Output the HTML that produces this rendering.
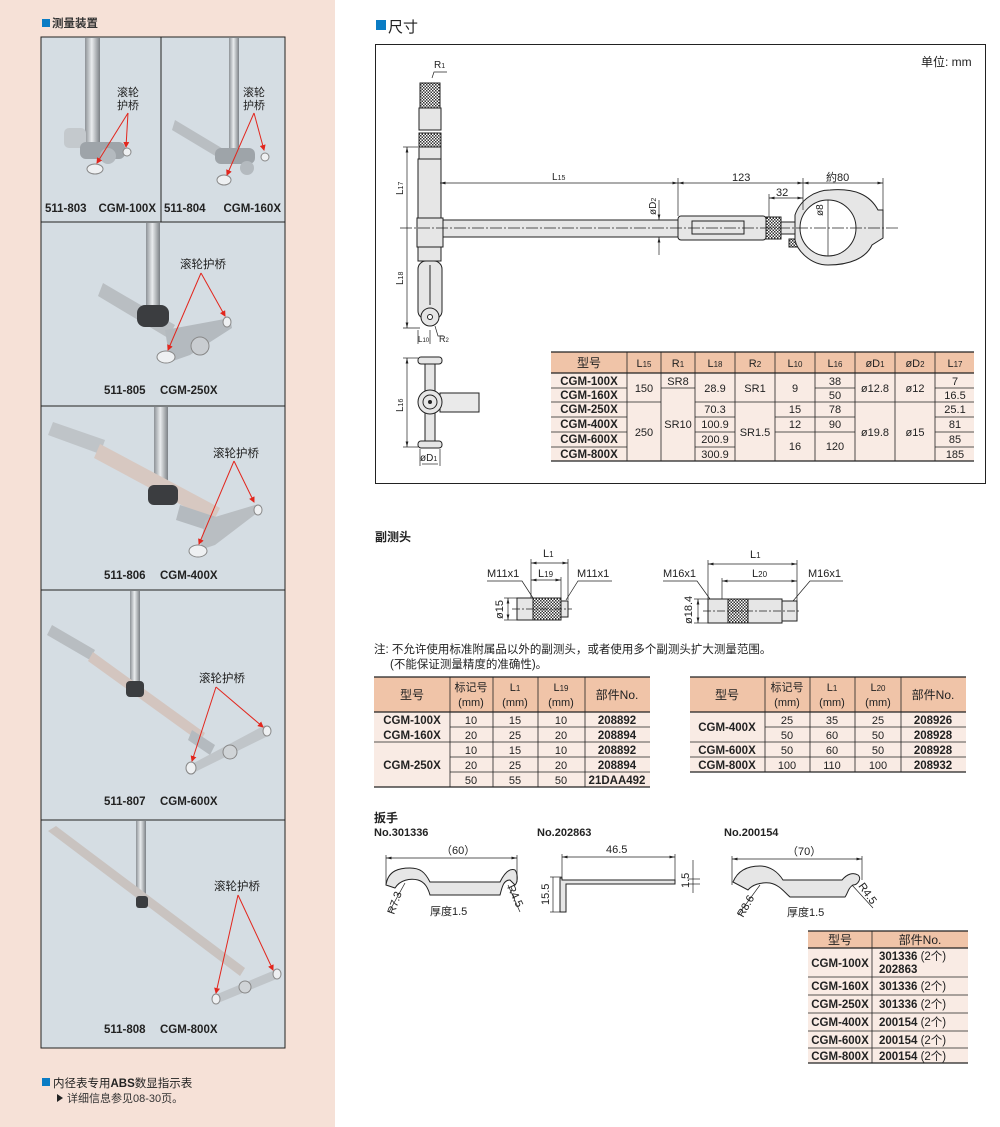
<!DOCTYPE html>
<html><head><meta charset="utf-8">
<style>
html,body{margin:0;padding:0;background:#fff;}
svg{display:block;font-family:"Liberation Sans","Noto Sans CJK SC",sans-serif;}
.b{font-weight:bold;}
</style></head><body>
<svg width="1000" height="1127" viewBox="0 0 1000 1127" xmlns="http://www.w3.org/2000/svg">
<defs>
<linearGradient id="rod" x1="0" x2="1"><stop offset="0" stop-color="#8d9297"/><stop offset=".45" stop-color="#e9ecee"/><stop offset="1" stop-color="#7c8186"/></linearGradient>
<pattern id="kn" width="3" height="3" patternUnits="userSpaceOnUse"><rect width="3" height="3" fill="#fff"/><rect width="1.5" height="1.5" fill="#333"/><rect x="1.5" y="1.5" width="1.5" height="1.5" fill="#333"/></pattern>
<marker id="ar" markerWidth="6" markerHeight="6" refX="5" refY="3" orient="auto"><path d="M0,0 L6,3 L0,6z" fill="#e2261d"/></marker>
<marker id="da" markerWidth="8" markerHeight="6" refX="8" refY="3" orient="auto"><path d="M0,1 L8,3 L0,5z" fill="#222"/></marker>
<marker id="ds" markerWidth="8" markerHeight="6" refX="0" refY="3" orient="auto"><path d="M8,1 L0,3 L8,5z" fill="#222"/></marker>
</defs>

<rect x="0" y="0" width="335" height="1127" fill="#f6e1d7"/>
<rect x="42" y="19" width="8" height="8" fill="#0a7cc4"/>
<text x="52" y="27" font-size="11.5" class="b" fill="#333">测量装置</text>

<rect x="41" y="37" width="244" height="1011" fill="#d5dde3" stroke="#222" stroke-width="1"/>
<g stroke="#222" stroke-width="1">
<line x1="161" y1="37" x2="161" y2="222"/>
<line x1="41" y1="222" x2="285" y2="222"/>
<line x1="41" y1="406" x2="285" y2="406"/>
<line x1="41" y1="590" x2="285" y2="590"/>
<line x1="41" y1="820" x2="285" y2="820"/>
</g>

<rect x="85" y="38" width="15" height="112" fill="url(#rod)"/>
<rect x="64" y="128" width="22" height="20" rx="5" fill="#c4c9cd"/>
<rect x="80" y="142" width="45" height="17" rx="6" fill="#9ea4a9"/>
<circle cx="108" cy="156" r="8" fill="#b4babf"/>
<ellipse cx="95" cy="169" rx="8" ry="5" fill="#eef0f2" stroke="#888"/>
<ellipse cx="127" cy="152" rx="4" ry="4" fill="#eef0f2" stroke="#888"/>
<text x="117" y="96" font-size="11" fill="#222">滚轮</text>
<text x="117" y="109" font-size="11" fill="#222">护桥</text>
<line x1="128" y1="113" x2="97" y2="163" stroke="#e2261d" stroke-width="1" marker-end="url(#ar)"/>
<line x1="128" y1="113" x2="126" y2="147" stroke="#e2261d" stroke-width="1" marker-end="url(#ar)"/>
<text x="45" y="212" font-size="11.5" class="b" fill="#222">511-803</text>
<text x="156" y="212" font-size="11.5" class="b" fill="#222" text-anchor="end">CGM-100X</text>

<rect x="229" y="38" width="10" height="112" fill="url(#rod)"/>
<path d="M175,120 L225,150 L222,160 L172,130z" fill="#b9bec2"/>
<rect x="215" y="148" width="40" height="16" rx="6" fill="#9ea4a9"/>
<circle cx="247" cy="168" r="7" fill="#b4babf"/>
<ellipse cx="224" cy="180" rx="7" ry="5" fill="#eef0f2" stroke="#888"/>
<ellipse cx="265" cy="157" rx="4" ry="4" fill="#eef0f2" stroke="#888"/>
<text x="243" y="96" font-size="11" fill="#222">滚轮</text>
<text x="243" y="109" font-size="11" fill="#222">护桥</text>
<line x1="254" y1="113" x2="227" y2="175" stroke="#e2261d" stroke-width="1" marker-end="url(#ar)"/>
<line x1="254" y1="113" x2="264" y2="150" stroke="#e2261d" stroke-width="1" marker-end="url(#ar)"/>
<text x="164" y="212" font-size="11.5" class="b" fill="#222">511-804</text>
<text x="281" y="212" font-size="11.5" class="b" fill="#222" text-anchor="end">CGM-160X</text>

<rect x="146" y="223" width="14" height="87" fill="url(#rod)"/>
<path d="M103,283 L175,325 L168,338 L98,296z" fill="#b9bec2"/>
<rect x="137" y="305" width="32" height="22" rx="8" fill="#3b3d40"/>
<path d="M165,330 L230,318 L232,328 L190,355 L170,362z" fill="#b4babf"/>
<circle cx="200" cy="346" r="9" fill="#c9cdd1" stroke="#888"/>
<ellipse cx="166" cy="357" rx="9" ry="6" fill="#eef0f2" stroke="#888"/>
<ellipse cx="227" cy="322" rx="4" ry="5" fill="#eef0f2" stroke="#888"/>
<text x="180" y="268" font-size="11.5" fill="#222">滚轮护桥</text>
<line x1="201" y1="273" x2="168" y2="350" stroke="#e2261d" stroke-width="1" marker-end="url(#ar)"/>
<line x1="201" y1="273" x2="225" y2="316" stroke="#e2261d" stroke-width="1" marker-end="url(#ar)"/>
<text x="104" y="394" font-size="11.5" class="b" fill="#222">511-805</text>
<text x="160" y="394" font-size="11.5" class="b" fill="#222">CGM-250X</text>

<rect x="154" y="407" width="14" height="85" fill="url(#rod)"/>
<path d="M53,422 L105,440 L100,454 L48,435z" fill="#bfc4c8"/>
<path d="M100,444 L220,508 L213,522 L94,458z" fill="#d7c8c1"/>
<rect x="148" y="485" width="30" height="20" rx="6" fill="#3b3d40"/>
<path d="M180,505 L225,520 L222,535 L176,520z" fill="#b4babf"/>
<path d="M205,520 L255,505 L257,513 L215,545 L200,550z" fill="#b9bec2"/>
<ellipse cx="198" cy="551" rx="9" ry="6" fill="#eef0f2" stroke="#888"/>
<ellipse cx="258" cy="510" rx="4" ry="5" fill="#eef0f2" stroke="#888"/>
<text x="213" y="457" font-size="11.5" fill="#222">滚轮护桥</text>
<line x1="234" y1="461" x2="199" y2="544" stroke="#e2261d" stroke-width="1" marker-end="url(#ar)"/>
<line x1="234" y1="461" x2="254" y2="502" stroke="#e2261d" stroke-width="1" marker-end="url(#ar)"/>
<text x="104" y="579" font-size="11.5" class="b" fill="#222">511-806</text>
<text x="160" y="579" font-size="11.5" class="b" fill="#222">CGM-400X</text>

<rect x="130" y="591" width="10" height="94" fill="url(#rod)"/>
<path d="M52,625 L95,650 L90,660 L47,635z" fill="#b8bdc1"/>
<path d="M93,652 L205,733 L200,742 L88,661z" fill="#d3c5bf"/>
<rect x="126" y="681" width="18" height="16" rx="4" fill="#3b3d40"/>
<path d="M192,730 L215,745 L210,755 L188,740z" fill="#b4babf"/>
<path d="M190,765 L265,725 L270,735 L195,772z" fill="#c0c5c9"/>
<circle cx="230" cy="752" r="7" fill="#d0d4d7" stroke="#888"/>
<ellipse cx="191" cy="768" rx="5" ry="6" fill="#eef0f2" stroke="#888"/>
<ellipse cx="267" cy="731" rx="4" ry="5" fill="#eef0f2" stroke="#888"/>
<text x="199" y="682" font-size="11.5" fill="#222">滚轮护桥</text>
<line x1="216" y1="687" x2="192" y2="761" stroke="#e2261d" stroke-width="1" marker-end="url(#ar)"/>
<line x1="216" y1="687" x2="263" y2="727" stroke="#e2261d" stroke-width="1" marker-end="url(#ar)"/>
<text x="104" y="805" font-size="11.5" class="b" fill="#222">511-807</text>
<text x="160" y="805" font-size="11.5" class="b" fill="#222">CGM-600X</text>

<rect x="136" y="821" width="10" height="82" fill="url(#rod)"/>
<path d="M48,831 L56,826 L245,968 L240,976z" fill="#c9c3c0"/>
<rect x="136" y="896" width="12" height="12" rx="3" fill="#3b3d40"/>
<path d="M215,995 L275,970 L279,978 L218,1003z" fill="#c0c5c9"/>
<circle cx="245" cy="987" r="6" fill="#d0d4d7" stroke="#888"/>
<ellipse cx="216" cy="999" rx="4" ry="5" fill="#eef0f2" stroke="#888"/>
<ellipse cx="277" cy="974" rx="4" ry="5" fill="#eef0f2" stroke="#888"/>
<text x="214" y="890" font-size="11.5" fill="#222">滚轮护桥</text>
<line x1="238" y1="895" x2="216" y2="993" stroke="#e2261d" stroke-width="1" marker-end="url(#ar)"/>
<line x1="238" y1="895" x2="273" y2="970" stroke="#e2261d" stroke-width="1" marker-end="url(#ar)"/>
<text x="104" y="1033" font-size="11.5" class="b" fill="#222">511-808</text>
<text x="160" y="1033" font-size="11.5" class="b" fill="#222">CGM-800X</text>

<rect x="42" y="1078" width="8" height="8" fill="#0a7cc4"/>
<text x="53" y="1087" font-size="11.5" fill="#222">内径表专用<tspan class="b">ABS</tspan>数显指示表</text>
<path d="M57,1094 L63,1098 L57,1102z" fill="#222"/>
<text x="67" y="1102" font-size="11" fill="#333">详细信息参见08-30页。</text>

<rect x="376" y="20" width="10" height="10" fill="#0a7cc4"/>
<text x="388" y="32" font-size="15" fill="#222">尺寸</text>
<rect x="375.5" y="44.5" width="610" height="439" fill="none" stroke="#222" stroke-width="1"/>
<text x="921" y="66" font-size="12" fill="#222">单位: mm</text>

<g stroke="#222" stroke-width="1" fill="#e6e6e6">
<rect x="420" y="83" width="20" height="25" fill="url(#kn)"/>
<rect x="419" y="108" width="22" height="22" fill="#e6e6e6"/>
<rect x="419" y="133" width="22" height="14" fill="url(#kn)"/>
<rect x="419" y="147" width="22" height="12"/>
<rect x="418" y="159" width="23" height="60"/>
<rect x="417" y="218" width="26" height="29"/>
<rect x="418" y="247" width="23" height="14"/>
<rect x="418" y="261" width="24" height="58" rx="8"/>
<circle cx="430" cy="317" r="9"/>
<circle cx="430" cy="317" r="2.5" fill="#fff"/>
<line x1="430" y1="265" x2="430" y2="305"/>
<rect x="443" y="220" width="235" height="17"/>
<rect x="678" y="216" width="88" height="24" rx="3"/>
<rect x="692" y="221" width="52" height="13" fill="#e6e6e6"/>
<rect x="766" y="217" width="15" height="22" fill="url(#kn)"/>
<rect x="781" y="222" width="22" height="12"/>
<rect x="789" y="239" width="12" height="8" fill="url(#kn)"/>
<path d="M795,215 C800,200 815,190 830,190 C855,188 870,195 878,210 L883,210 L883,238 L872,245 C866,258 850,265 828,265 C810,265 797,250 795,240z"/>
<circle cx="828" cy="228" r="28" fill="#fff"/>
</g>
<g stroke="#222" stroke-width=".7" fill="none">
<line x1="400" y1="228" x2="900" y2="228" stroke-dasharray="12,2,2,2"/>
<line x1="407" y1="147" x2="407" y2="328" marker-start="url(#ds)" marker-end="url(#da)"/>
<line x1="403" y1="147" x2="418" y2="147"/><line x1="403" y1="328" x2="420" y2="328"/>
<line x1="440" y1="183" x2="678" y2="183" marker-start="url(#ds)" marker-end="url(#da)"/>
<line x1="678" y1="183" x2="803" y2="183" marker-start="url(#ds)" marker-end="url(#da)"/>
<line x1="803" y1="183" x2="883" y2="183" marker-start="url(#ds)" marker-end="url(#da)"/>
<line x1="678" y1="178" x2="678" y2="216"/><line x1="803" y1="178" x2="803" y2="210"/><line x1="883" y1="178" x2="883" y2="210"/>
<line x1="769" y1="198" x2="803" y2="198" marker-start="url(#ds)" marker-end="url(#da)"/>
<line x1="769" y1="194" x2="769" y2="217"/>
<line x1="659" y1="200" x2="659" y2="220" marker-end="url(#da)"/>
<line x1="659" y1="255" x2="659" y2="237" marker-end="url(#da)"/>
<line x1="828" y1="200" x2="828" y2="256"/>
<path d="M432,78 L434,72 L447,72"/>
<path d="M435,326 L438,336 L443,336"/>
<line x1="418" y1="330" x2="418" y2="344"/><line x1="430" y1="330" x2="430" y2="344"/>
</g>
<text x="434" y="68" font-size="10" fill="#222">R<tspan font-size="7">1</tspan></text>
<text x="552" y="180" font-size="10" fill="#222">L<tspan font-size="7">15</tspan></text>
<text x="732" y="181" font-size="11" fill="#222">123</text>
<text x="776" y="196" font-size="11" fill="#222">32</text>
<text x="826" y="181" font-size="11" fill="#222">約80</text>
<text transform="translate(656,215) rotate(-90)" font-size="10" fill="#222">øD<tspan font-size="7">2</tspan></text>
<text transform="translate(823,216) rotate(-90)" font-size="10" fill="#222">ø8</text>
<text transform="translate(403,195) rotate(-90)" font-size="10" fill="#222">L<tspan font-size="7">17</tspan></text>
<text transform="translate(403,285) rotate(-90)" font-size="10" fill="#222">L<tspan font-size="7">18</tspan></text>
<text x="418" y="342" font-size="8" fill="#222">L<tspan font-size="6">10</tspan></text>
<text x="439" y="342" font-size="9" fill="#222">R<tspan font-size="6">2</tspan></text>

<g stroke="#222" stroke-width="1" fill="#e6e6e6">
<rect x="425" y="362" width="10" height="80"/>
<rect x="418" y="357" width="24" height="7" rx="3"/>
<rect x="418" y="441" width="24" height="7" rx="3"/>
<rect x="440" y="393" width="39" height="19" fill="#eaeaea"/>
<circle cx="430" cy="402" r="12"/>
<circle cx="430" cy="402" r="7" fill="none"/>
<circle cx="430" cy="402" r="1.5" fill="#222"/>
</g>
<g stroke="#222" stroke-width=".7" fill="none">
<line x1="407" y1="358" x2="407" y2="447" marker-start="url(#ds)" marker-end="url(#da)"/>
<line x1="403" y1="358" x2="418" y2="358"/><line x1="403" y1="447" x2="418" y2="447"/>
<line x1="420" y1="449" x2="420" y2="466"/><line x1="440" y1="449" x2="440" y2="466"/>
<line x1="422" y1="464" x2="438" y2="464"/>
</g>
<text transform="translate(403,412) rotate(-90)" font-size="10" fill="#222">L<tspan font-size="7">16</tspan></text>
<text x="420" y="461" font-size="10" fill="#222">øD<tspan font-size="7">1</tspan></text>

<rect x="551" y="352" width="423" height="21" fill="#f0c4a8"/>
<rect x="551" y="373" width="423" height="88" fill="#f9ebe4"/>
<g font-size="11" fill="#222" text-anchor="middle">
<text x="589" y="367" font-size="12">型号</text>
<text x="644" y="367">L<tspan font-size="8">15</tspan></text>
<text x="678" y="367">R<tspan font-size="8">1</tspan></text>
<text x="715" y="367">L<tspan font-size="8">18</tspan></text>
<text x="755" y="367">R<tspan font-size="8">2</tspan></text>
<text x="795" y="367">L<tspan font-size="8">10</tspan></text>
<text x="835" y="367">L<tspan font-size="8">16</tspan></text>
<text x="875" y="367">øD<tspan font-size="8">1</tspan></text>
<text x="915" y="367">øD<tspan font-size="8">2</tspan></text>
<text x="955" y="367">L<tspan font-size="8">17</tspan></text>
<g class="b" font-size="11.5">
<text x="589" y="385">CGM-100X</text><text x="589" y="399">CGM-160X</text>
<text x="589" y="413">CGM-250X</text><text x="589" y="428">CGM-400X</text>
<text x="589" y="443">CGM-600X</text><text x="589" y="458">CGM-800X</text>
</g>
<text x="644" y="392">150</text><text x="644" y="436">250</text>
<text x="678" y="385">SR8</text><text x="678" y="428">SR10</text>
<text x="715" y="392">28.9</text><text x="715" y="413">70.3</text><text x="715" y="428">100.9</text><text x="715" y="443">200.9</text><text x="715" y="458">300.9</text>
<text x="755" y="392">SR1</text><text x="755" y="436">SR1.5</text>
<text x="795" y="392">9</text><text x="795" y="413">15</text><text x="795" y="428">12</text><text x="795" y="450">16</text>
<text x="835" y="385">38</text><text x="835" y="399">50</text><text x="835" y="413">78</text><text x="835" y="428">90</text><text x="835" y="450">120</text>
<text x="875" y="392">ø12.8</text><text x="875" y="436">ø19.8</text>
<text x="915" y="392">ø12</text><text x="915" y="436">ø15</text>
<text x="955" y="385">7</text><text x="955" y="399">16.5</text><text x="955" y="413">25.1</text><text x="955" y="428">81</text><text x="955" y="443">85</text><text x="955" y="458">185</text>
</g>
<g stroke="#222" stroke-width=".8">
<line x1="551" y1="352" x2="974" y2="352" stroke-width="1.2"/>
<line x1="551" y1="373" x2="974" y2="373" stroke-width="1.2"/>
<line x1="551" y1="461" x2="974" y2="461" stroke-width="1.2"/>
<line x1="627" y1="352" x2="627" y2="461"/><line x1="661" y1="352" x2="661" y2="461"/>
<line x1="695" y1="352" x2="695" y2="461"/><line x1="735" y1="352" x2="735" y2="461"/>
<line x1="775" y1="352" x2="775" y2="461"/><line x1="815" y1="352" x2="815" y2="461"/>
<line x1="855" y1="352" x2="855" y2="461"/><line x1="895" y1="352" x2="895" y2="461"/>
<line x1="935" y1="352" x2="935" y2="461"/>
<line x1="551" y1="388" x2="627" y2="388"/><line x1="551" y1="402" x2="661" y2="402"/>
<line x1="551" y1="417" x2="627" y2="417"/><line x1="551" y1="432" x2="627" y2="432"/><line x1="551" y1="447" x2="627" y2="447"/>
<line x1="661" y1="388" x2="695" y2="388"/>
<line x1="695" y1="402" x2="735" y2="402"/><line x1="695" y1="417" x2="735" y2="417"/><line x1="695" y1="432" x2="735" y2="432"/><line x1="695" y1="447" x2="735" y2="447"/>
<line x1="735" y1="402" x2="775" y2="402"/>
<line x1="775" y1="402" x2="855" y2="402"/><line x1="775" y1="417" x2="855" y2="417"/><line x1="775" y1="432" x2="855" y2="432"/>
<line x1="815" y1="388" x2="855" y2="388"/>
<line x1="855" y1="402" x2="935" y2="402"/>
<line x1="935" y1="388" x2="974" y2="388"/><line x1="935" y1="402" x2="974" y2="402"/><line x1="935" y1="417" x2="974" y2="417"/><line x1="935" y1="432" x2="974" y2="432"/><line x1="935" y1="447" x2="974" y2="447"/>
</g>

<text x="375" y="541" font-size="12" class="b" fill="#222">副测头</text>
<g stroke="#222" stroke-width="1">
<rect x="517" y="598" width="16" height="22" fill="#e6e6e6"/>
<rect x="533" y="598" width="28" height="22" fill="url(#kn)"/>
<rect x="561" y="601" width="7" height="16" fill="#e6e6e6"/>
<rect x="708" y="599" width="20" height="24" fill="#e6e6e6"/>
<rect x="728" y="599" width="20" height="24" fill="url(#kn)"/>
<rect x="748" y="599" width="34" height="24" fill="#e6e6e6"/>
<rect x="782" y="601" width="15" height="20" fill="#e6e6e6"/>
</g>
<g stroke="#222" stroke-width=".7" fill="none">
<line x1="512" y1="609" x2="572" y2="609" stroke-dasharray="8,2,2,2"/>
<line x1="703" y1="611" x2="800" y2="611" stroke-dasharray="8,2,2,2"/>
<line x1="531" y1="563" x2="568" y2="563" marker-start="url(#ds)" marker-end="url(#da)"/>
<line x1="531" y1="580" x2="561" y2="580" marker-start="url(#ds)" marker-end="url(#da)"/>
<line x1="531" y1="559" x2="531" y2="598"/><line x1="568" y1="559" x2="568" y2="600"/><line x1="561" y1="577" x2="561" y2="598"/>
<path d="M487,581 L522,581 L533,598"/><path d="M612,581 L578,581 L566,600"/>
<line x1="508" y1="598" x2="508" y2="620" marker-start="url(#ds)" marker-end="url(#da)"/>
<line x1="504" y1="598" x2="517" y2="598"/><line x1="504" y1="620" x2="517" y2="620"/>
<line x1="708" y1="564" x2="797" y2="564" marker-start="url(#ds)" marker-end="url(#da)"/>
<line x1="722" y1="581" x2="797" y2="581" marker-start="url(#ds)" marker-end="url(#da)"/>
<line x1="708" y1="560" x2="708" y2="599"/><line x1="797" y1="560" x2="797" y2="601"/><line x1="722" y1="578" x2="722" y2="599"/>
<path d="M663,581 L697,581 L710,599"/><path d="M843,581 L810,581 L793,601"/>
<line x1="698" y1="599" x2="698" y2="623" marker-start="url(#ds)" marker-end="url(#da)"/>
<line x1="694" y1="599" x2="708" y2="599"/><line x1="694" y1="623" x2="708" y2="623"/>
</g>
<g font-size="11" fill="#222">
<text x="543" y="557">L<tspan font-size="8">1</tspan></text>
<text x="538" y="577">L<tspan font-size="8">19</tspan></text>
<text x="487" y="577">M11x1</text><text x="577" y="577">M11x1</text>
<text x="750" y="558">L<tspan font-size="8">1</tspan></text>
<text x="752" y="577">L<tspan font-size="8">20</tspan></text>
<text x="663" y="577">M16x1</text><text x="808" y="577">M16x1</text>
<text transform="translate(503,619) rotate(-90)">ø15</text>
<text transform="translate(692,624) rotate(-90)">ø18.4</text>
</g>

<text x="374" y="653" font-size="11.5" fill="#222">注: 不允许使用标准附属品以外的副测头，或者使用多个副测头扩大测量范围。</text>
<text x="390" y="668" font-size="11.5" fill="#222">(不能保证测量精度的准确性)。</text>

<rect x="374" y="677" width="276" height="35" fill="#f0c4a8"/>
<rect x="374" y="712" width="276" height="75" fill="#f9ebe4"/>
<g font-size="11" fill="#222" text-anchor="middle">
<text x="412" y="699" font-size="12">型号</text>
<text x="471" y="691">标记号</text><text x="471" y="706">(mm)</text>
<text x="515" y="691">L<tspan font-size="8">1</tspan></text><text x="515" y="706">(mm)</text>
<text x="561" y="691">L<tspan font-size="8">19</tspan></text><text x="561" y="706">(mm)</text>
<text x="617" y="699" font-size="12">部件No.</text>
<g class="b" font-size="11.5"><text x="412" y="724">CGM-100X</text><text x="412" y="739">CGM-160X</text><text x="412" y="769">CGM-250X</text>
<text x="617" y="724">208892</text><text x="617" y="739">208894</text><text x="617" y="754">208892</text><text x="617" y="769">208894</text><text x="617" y="784">21DAA492</text></g>
<text x="471" y="724">10</text><text x="471" y="739">20</text><text x="471" y="754">10</text><text x="471" y="769">20</text><text x="471" y="784">50</text>
<text x="515" y="724">15</text><text x="515" y="739">25</text><text x="515" y="754">15</text><text x="515" y="769">25</text><text x="515" y="784">55</text>
<text x="561" y="724">10</text><text x="561" y="739">20</text><text x="561" y="754">10</text><text x="561" y="769">20</text><text x="561" y="784">50</text>
</g>
<g stroke="#222" stroke-width=".8">
<line x1="374" y1="677" x2="650" y2="677" stroke-width="1.2"/><line x1="374" y1="712" x2="650" y2="712" stroke-width="1.2"/><line x1="374" y1="787" x2="650" y2="787" stroke-width="1.2"/>
<line x1="450" y1="677" x2="450" y2="787"/><line x1="493" y1="677" x2="493" y2="787"/><line x1="538" y1="677" x2="538" y2="787"/><line x1="585" y1="677" x2="585" y2="787"/>
<line x1="450" y1="727" x2="650" y2="727"/><line x1="374" y1="742" x2="650" y2="742"/><line x1="450" y1="757" x2="650" y2="757"/><line x1="450" y1="772" x2="650" y2="772"/>
</g>
<rect x="690" y="677" width="276" height="35" fill="#f0c4a8"/>
<rect x="690" y="712" width="276" height="60" fill="#f9ebe4"/>
<g font-size="11" fill="#222" text-anchor="middle">
<text x="727" y="699" font-size="12">型号</text>
<text x="787" y="691">标记号</text><text x="787" y="706">(mm)</text>
<text x="832" y="691">L<tspan font-size="8">1</tspan></text><text x="832" y="706">(mm)</text>
<text x="878" y="691">L<tspan font-size="8">20</tspan></text><text x="878" y="706">(mm)</text>
<text x="933" y="699" font-size="12">部件No.</text>
<g class="b" font-size="11.5"><text x="727" y="731">CGM-400X</text><text x="727" y="754">CGM-600X</text><text x="727" y="769">CGM-800X</text>
<text x="933" y="724">208926</text><text x="933" y="739">208928</text><text x="933" y="754">208928</text><text x="933" y="769">208932</text></g>
<text x="787" y="724">25</text><text x="787" y="739">50</text><text x="787" y="754">50</text><text x="787" y="769">100</text>
<text x="832" y="724">35</text><text x="832" y="739">60</text><text x="832" y="754">60</text><text x="832" y="769">110</text>
<text x="878" y="724">25</text><text x="878" y="739">50</text><text x="878" y="754">50</text><text x="878" y="769">100</text>
</g>
<g stroke="#222" stroke-width=".8">
<line x1="690" y1="677" x2="966" y2="677" stroke-width="1.2"/><line x1="690" y1="712" x2="966" y2="712" stroke-width="1.2"/><line x1="690" y1="772" x2="966" y2="772" stroke-width="1.2"/>
<line x1="765" y1="677" x2="765" y2="772"/><line x1="810" y1="677" x2="810" y2="772"/><line x1="855" y1="677" x2="855" y2="772"/><line x1="901" y1="677" x2="901" y2="772"/>
<line x1="765" y1="727" x2="966" y2="727"/><line x1="690" y1="742" x2="966" y2="742"/><line x1="690" y1="757" x2="966" y2="757"/>
</g>

<text x="374" y="822" font-size="12" class="b" fill="#222">扳手</text>
<g font-size="11" class="b" fill="#222">
<text x="374" y="836">No.301336</text><text x="537" y="836">No.202863</text><text x="724" y="836">No.200154</text>
</g>
<g stroke="#222" stroke-width="1" fill="#e6e6e6">
<path d="M386,885 C388,870 400,868 410,868 C420,868 425,872 430,882 L500,882 C505,872 510,868 515,870 C518,874 518,882 515,885 L510,880 C503,880 502,888 500,895 L430,895 C428,888 425,882 418,880 C410,878 400,880 395,888z"/>
<path d="M560,878 L562,878 L562,880 L675,880 L675,884 L566,884 L566,912 L560,912z"/>
<path d="M733,882 C738,870 748,866 760,866 C770,866 778,872 783,880 L842,880 C847,874 853,872 858,875 C862,878 858,885 853,885 C848,888 848,893 845,897 L790,897 C785,893 780,885 770,883 C760,882 752,885 748,890z"/>
</g>
<g stroke="#222" stroke-width=".7" fill="none">
<line x1="386" y1="858" x2="517" y2="858" marker-start="url(#ds)" marker-end="url(#da)"/>
<line x1="386" y1="855" x2="386" y2="885"/><line x1="517" y1="855" x2="517" y2="882"/>
<line x1="562" y1="857" x2="675" y2="857" marker-start="url(#ds)" marker-end="url(#da)"/>
<line x1="562" y1="854" x2="562" y2="878"/><line x1="675" y1="854" x2="675" y2="880"/>
<line x1="553" y1="877" x2="553" y2="912"/><line x1="550" y1="877" x2="562" y2="877"/><line x1="550" y1="912" x2="562" y2="912"/>
<line x1="693" y1="860" x2="693" y2="893"/><line x1="688" y1="879" x2="700" y2="879"/><line x1="688" y1="884" x2="700" y2="884"/>
<line x1="732" y1="859" x2="862" y2="859" marker-start="url(#ds)" marker-end="url(#da)"/>
<line x1="732" y1="856" x2="732" y2="885"/><line x1="862" y1="856" x2="862" y2="880"/>
<line x1="389" y1="912" x2="405" y2="883"/><line x1="508" y1="885" x2="520" y2="912"/>
<line x1="738" y1="915" x2="760" y2="885"/><line x1="852" y1="885" x2="873" y2="908"/>
</g>
<g font-size="11" fill="#222">
<text x="441" y="854">（60）</text>
<text x="606" y="853">46.5</text>
<text x="787" y="855">（70）</text>
<text x="430" y="915">厚度1.5</text>
<text x="787" y="916">厚度1.5</text>
<text transform="translate(549,905) rotate(-90)">15.5</text>
<text transform="translate(689,888) rotate(-90)">1.5</text>
<text transform="translate(394,915) rotate(-70)">R7.3</text>
<text transform="translate(507,887) rotate(65)">R4.5</text>
<text transform="translate(743,918) rotate(-60)">R8.6</text>
<text transform="translate(858,886) rotate(55)">R4.5</text>
</g>

<rect x="808" y="931" width="160" height="17" fill="#f0c4a8"/>
<rect x="808" y="948" width="160" height="115" fill="#f9ebe4"/>
<g font-size="11.5" fill="#222">
<text x="840" y="944" text-anchor="middle" font-size="12">型号</text>
<text x="920" y="944" text-anchor="middle" font-size="12">部件No.</text>
<g class="b" text-anchor="middle"><text x="840" y="967">CGM-100X</text><text x="840" y="990">CGM-160X</text><text x="840" y="1008">CGM-250X</text><text x="840" y="1026">CGM-400X</text><text x="840" y="1044">CGM-600X</text><text x="840" y="1060">CGM-800X</text></g>
<g class="b"><text x="879" y="960">301336 <tspan font-weight="normal">(2个)</tspan></text><text x="879" y="973">202863</text>
<text x="879" y="990">301336 <tspan font-weight="normal">(2个)</tspan></text><text x="879" y="1008">301336 <tspan font-weight="normal">(2个)</tspan></text>
<text x="879" y="1026">200154 <tspan font-weight="normal">(2个)</tspan></text><text x="879" y="1044">200154 <tspan font-weight="normal">(2个)</tspan></text><text x="879" y="1060">200154 <tspan font-weight="normal">(2个)</tspan></text></g>
</g>
<g stroke="#222" stroke-width=".8">
<line x1="808" y1="931" x2="968" y2="931" stroke-width="1.2"/><line x1="808" y1="948" x2="968" y2="948" stroke-width="1.2"/><line x1="808" y1="1063" x2="968" y2="1063" stroke-width="1.2"/>
<line x1="872" y1="931" x2="872" y2="1063"/>
<line x1="808" y1="977" x2="968" y2="977"/><line x1="808" y1="995" x2="968" y2="995"/><line x1="808" y1="1013" x2="968" y2="1013"/><line x1="808" y1="1031" x2="968" y2="1031"/><line x1="808" y1="1048" x2="968" y2="1048"/>
</g>
</svg>
</body></html>
